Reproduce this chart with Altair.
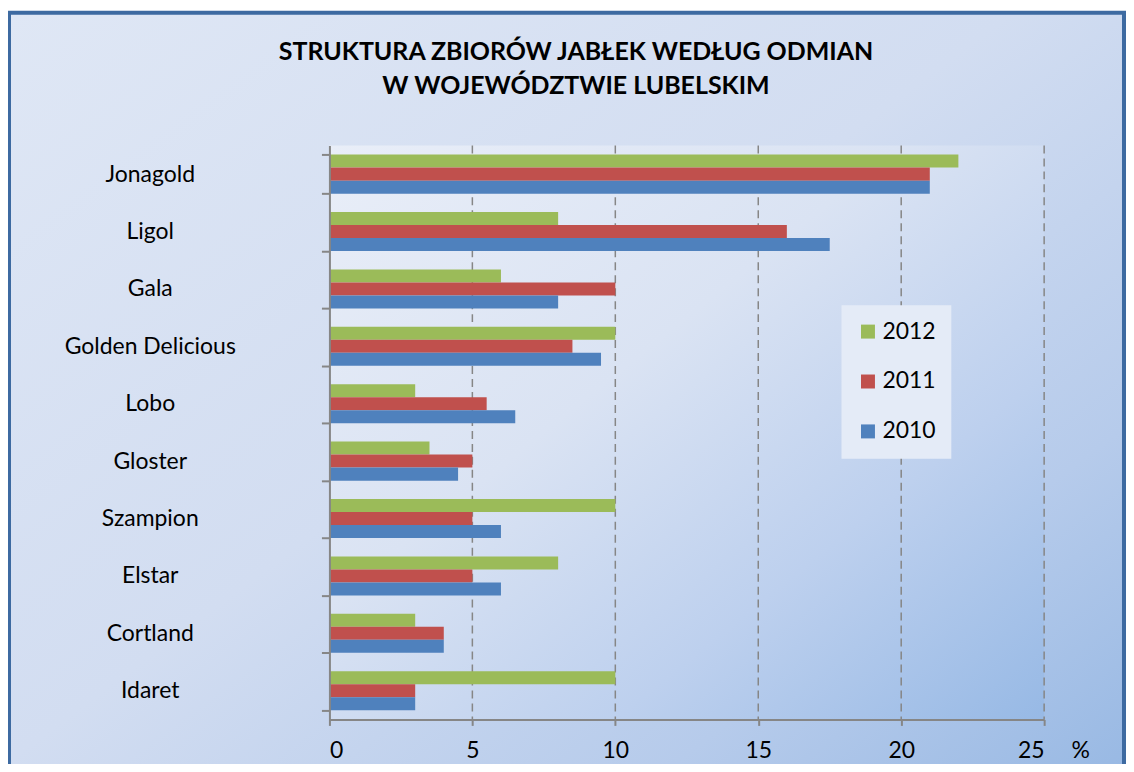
import altair as alt
import pandas as pd

# ---- data ----
varieties = ["Jonagold", "Ligol", "Gala", "Golden Delicious", "Lobo",
             "Gloster", "Szampion", "Elstar", "Cortland", "Idaret"]
years = ["2012", "2011", "2010"]
v2012 = [22, 8, 6, 10, 3, 3.5, 10, 8, 3, 10]
v2011 = [21, 16, 10, 8.5, 5.5, 5, 5, 5, 4, 3]
v2010 = [21, 17.5, 8, 9.5, 6.5, 4.5, 6, 6, 4, 3]
x_ticks = [0, 5, 10, 15, 20, 25]
colors = ["#9BBB59", "#C0504D", "#4F81BD"]
title_lines = ["STRUKTURA ZBIORÓW JABŁEK WEDŁUG ODMIAN", "W WOJEWÓDZTWIE LUBELSKIM"]
unit = "%"

rows = []
for yr, vals in zip(years, [v2012, v2011, v2010]):
    for name, v in zip(varieties, vals):
        rows.append({"odmiana": name, "rok": yr, "wartosc": v})
df = pd.DataFrame(rows)
grid_df = pd.DataFrame({"wartosc": x_ticks[1:]})

W, H = 716, 575
FONT = "Lato"
AXIS_GRAY = "#868686"


def grad(stops, x2=1, y2=1):
    return alt.LinearGradient(
        gradient="linear",
        stops=[alt.GradientStop(color=c, offset=o) for o, c in stops],
        x1=0, y1=0, x2=x2, y2=y2,
    )


one = pd.DataFrame({"k": [0]})

outer = alt.Chart(one).mark_rect(
    fill=grad([(0, "#DFE7F5"), (0.45, "#D2DDF1"), (0.75, "#B6CBEB"), (1, "#92B5E2")]),
    stroke="#3D6AA1", strokeWidth=4,
).encode(x=alt.value(-321), x2=alt.value(796), y=alt.value(-133), y2=alt.value(700))

inner = alt.Chart(one).mark_rect(
    fill=grad([(0, "#E9EEF8"), (0.4, "#DAE3F3"), (0.7, "#BDD0EE"), (1, "#97B9E5")]),
).encode(x=alt.value(0), x2=alt.value(W), y=alt.value(0), y2=alt.value(H))

xscale = alt.Scale(domain=[0, 25], nice=False)

grid = alt.Chart(grid_df).mark_rule(
    strokeDash=[8, 5], color=AXIS_GRAY, strokeWidth=1.5
).encode(x=alt.X("wartosc:Q", scale=xscale))

bars = alt.Chart(df).mark_bar().encode(
    y=alt.Y(
        "odmiana:N", sort=varieties,
        scale=alt.Scale(paddingInner=0.32, paddingOuter=0.16),
        axis=alt.Axis(
            title=None, labelAlign="center", labelPadding=172, tickBand="extent",
            tickSize=8, tickColor=AXIS_GRAY, tickWidth=2, domainColor=AXIS_GRAY,
            domainWidth=2, labelFont=FONT, labelFontSize=23, labelColor="black",
            grid=False, zindex=1,
        ),
    ),
    yOffset=alt.YOffset("rok:N", sort=years, scale=alt.Scale(paddingInner=0, paddingOuter=0)),
    x=alt.X(
        "wartosc:Q",
        scale=xscale,
        axis=alt.Axis(
            values=x_ticks, title=unit, titleX=752, titleY=20, titleAlign="center",
            titleBaseline="top", titleAngle=0, titleFont=FONT, titleFontSize=23,
            titleFontWeight="normal", titleColor="black",
            grid=False,
            tickSize=6, tickColor=AXIS_GRAY, tickWidth=2,
            domainColor=AXIS_GRAY, domainWidth=2,
            labelFont=FONT, labelFontSize=23, labelColor="black", labelPadding=14,
            zindex=1,
        ),
    ),
    color=alt.Color(
        "rok:N", sort=years,
        scale=alt.Scale(domain=years, range=colors),
        legend=alt.Legend(
            title=None, orient="none", legendX=513, legendY=160,
            fillColor="#E4EBF7", padding=15, symbolType="square", symbolSize=196,
            symbolStrokeWidth=0, symbolOpacity=1, labelFont=FONT, labelFontSize=23,
            labelColor="black", rowPadding=26, labelOffset=3, zindex=3,
        ),
    ),
)

chart = alt.layer(outer, inner, grid, bars).properties(
    width=W, height=H,
    title=alt.TitleParams(
        text=title_lines, font=FONT, fontSize=25, fontWeight="bold", color="black",
        anchor="middle", dx=-111, offset=-88, lineHeight=34,
    ),
    autosize=alt.AutoSizeParams(type="none"),
    padding={"left": 322, "top": 137, "right": 82, "bottom": 44},
).configure(background="white").configure_view(stroke=None)

chart.save("out.html", embed_options={"renderer": "svg", "actions": False})
